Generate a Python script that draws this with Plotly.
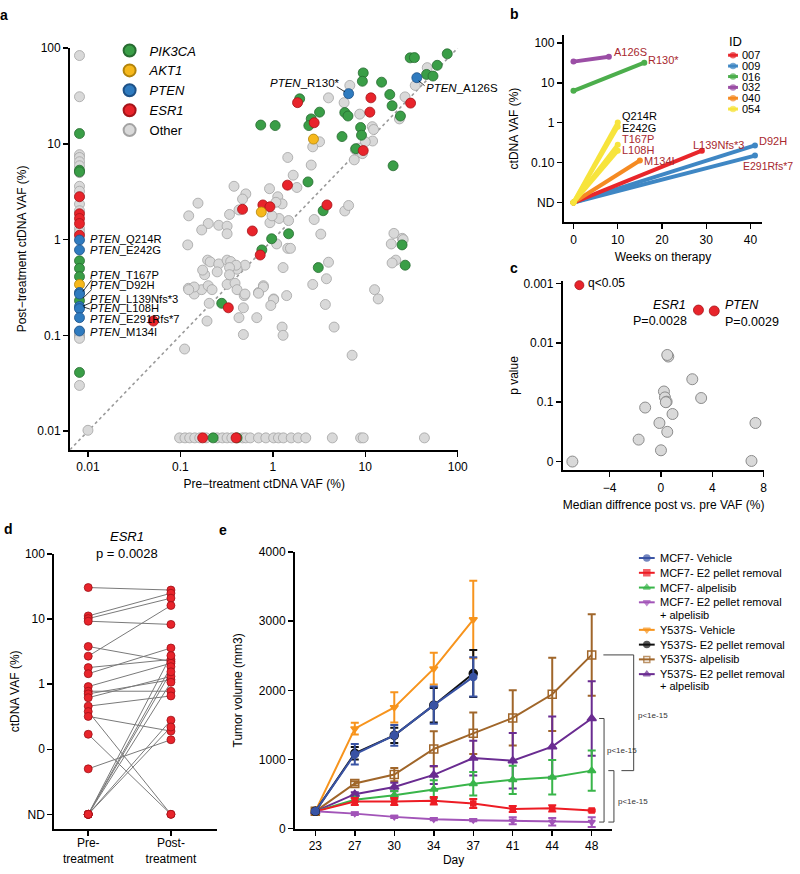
import math
import plotly.graph_objects as go

W, H = 800, 874
FONT = "Arial, Liberation Sans, sans-serif"


def fx(px):
    return px / W


def fy(py):
    return 1 - py / H


ND = None

# ---------------- panel a : (pre, post) ctDNA VAF %, None = not detected ----------------
pik3ca_pairs = [
    (30.6, 79), (34, 79.4), (77, 87), (60, 66), (46, 53), (54, 51), (9.5, 55), (9.3, 45),
    (15, 44), (18.4, 32.7), (19.5, 25), (24, 19.5), (6.0, 21.2), (6.5, 19.5), (8.9, 14.8),
    (9.1, 12.3), (5.6, 11.9), (1.95, 29.5), (3.2, 21.4), (2.6, 18.2), (2.45, 15.5),
    (0.74, 15.7), (1.06, 15.5), (7.9, 8.9), (20, 5.9), (2.4, 4.0), (3.5, 2.0), (1.48, 1.15),
    (0.97, 1.02), (0.76, 0.78), (3.1, 0.51), (25, 0.88), (27, 0.54), (0.28, 0.216),
    (ND, 12.8), (ND, 5.3), (ND, 5.1), (ND, 0.6), (ND, 0.5), (ND, 0.41), (ND, 0.23), (ND, 0.041),
    (0.226, ND), (0.41, ND),
]
akt1_pairs = [(2.75, 11.2), (0.75, 1.94), (ND, 0.34)]
pten_pairs = [(6.6, 33.4), (36.1, 49), (ND, 0.99), (ND, 0.78), (ND, 0.28), (ND, 0.27),
              (ND, 0.2), (ND, 0.19), (ND, 0.153), (ND, 0.111)]
esr1_pairs = [
    (1.85, 26.9), (11.5, 30.2), (11.2, 21.4), (30.9, 26.6), (2.8, 16.6), (9.5, 8.5),
    (1.44, 3.7), (3.85, 2.3), (0.78, 2.3), (0.93, 2.2), (0.47, 2.07), (0.6, 1.23),
    (0.73, 0.69), (0.33, 0.194), (0.051, 0.141), (0.174, ND), (0.40, ND),
    (ND, 2.8), (ND, 1.86), (ND, 1.66), (ND, 1.47), (ND, 1.11),
]
other_pairs = [
    (46.8, 62.4), (34.7, 40.7), (26.9, 30.9), (23.4, 18.2), (6.8, 40.7), (5.9, 26.9),
    (8.7, 20.4), (4.0, 30.2), (11.9, 15.1), (12.3, 14.1), (12.0, 10.7), (10.0, 10.5),
    (8.5, 9.0), (7.8, 8.7), (9.3, 7.9), (7.6, 6.8), (3.2, 10.5), (2.7, 9.3), (2.6, 6.0),
    (1.45, 7.2), (1.66, 4.7), (1.82, 3.5), (0.92, 3.4), (1.13, 2.8), (1.26, 2.36),
    (1.08, 2.45), (0.51, 3.0), (0.47, 2.65), (0.43, 2.04), (0.93, 1.5), (1.17, 1.66),
    (1.48, 1.58), (0.98, 1.77), (2.8, 1.62), (3.3, 1.14), (6.0, 1.99), (6.6, 2.27),
    (1.1, 0.9), (1.45, 0.81), (1.55, 0.81), (1.29, 0.51), (0.5, 0.54), (0.41, 0.49),
    (4.0, 0.58), (2.7, 0.34), (3.8, 0.39), (0.79, 0.33), (0.70, 0.28), (0.49, 0.26),
    (1.02, 0.24), (1.41, 0.26), (12.6, 0.30), (13.8, 0.24), (20.4, 1.16), (19.1, 0.9),
    (25.1, 1.03), (21.4, 0.61), (19.5, 0.57), (25.7, 1.0), (3.7, 0.21), (1.26, 0.122),
    (1.29, 0.10), (4.6, 0.122), (7.2, 0.062), (0.197, 0.61), (0.21, 0.585), (0.26, 0.557),
    (0.32, 0.61), (0.35, 0.59), (0.40, 0.54), (0.34, 0.51), (0.183, 0.43), (0.34, 0.43),
    (0.32, 0.34), (0.39, 0.35), (0.79, 0.32), (0.122, 0.31), (0.141, 0.27), (0.17, 0.30),
    (0.41, 0.30), (0.50, 0.27), (0.205, 0.216), (0.48, 0.194), (0.70, 0.275), (1.02, 0.236),
    (0.95, 0.205), (0.43, 0.153), (0.67, 0.153), (0.194, 0.141), (0.48, 0.102),
    (0.111, 0.072), (0.01, 0.0102), (0.155, 2.4), (0.123, 1.77), (0.38, 3.6), (0.34, 1.83),
    (0.20, 1.47), (0.26, 1.41), (0.32, 1.38), (0.32, 1.15), (0.17, 1.26), (0.12, 0.88),
    (0.174, 0.48), (0.25, 0.46), (0.141, 0.32), (0.123, 0.30), (0.2, 0.33), (0.22, 0.30),
    (ND, 83.5), (ND, 31), (ND, 7.7), (ND, 7.2), (ND, 6.5), (ND, 5.9), (ND, 5.0), (ND, 3.6),
    (ND, 3.2), (ND, 2.8), (ND, 2.35), (ND, 2.0), (ND, 1.3), (ND, 1.2), (ND, 0.109),
    (ND, 0.1), (ND, 0.097), (ND, 0.093), (ND, 0.030),
    (0.098, ND), (0.112, ND), (0.126, ND), (0.143, ND), (0.162, ND), (0.19, ND), (0.25, ND),
    (0.285, ND), (0.32, ND), (0.36, ND), (0.47, ND), (0.51, ND), (0.57, ND), (0.70, ND),
    (0.84, ND), (1.02, ND), (1.15, ND), (1.3, ND), (1.58, ND), (1.88, ND), (2.27, ND),
    (4.4, ND), (8.9, ND), (9.5, ND), (43.6, ND),
]
a_nd_pre_pos = 0.0081   # where "not detected" is drawn on panel a
a_nd_post_pos = 0.0085
a_ticks = [0.01, 0.1, 1, 10, 100]
a_ticktext = ["0.01", "0.1", "1", "10", "100"]
pten_left_labels = ["Q214R", "E242G", "T167P", "D92H", "L139Nfs*3", "L108H", "E291Rfs*7", "M134I"]

# ---------------- panel b ----------------
b_ids = ["009", "009", "007", "040", "054", "054", "054", "054", "016", "032"]
b_weeks = [41, 41, 29, 15, 10, 10, 10, 10, 16, 8]
b_pre = [ND, ND, ND, ND, ND, ND, ND, ND, 6.3, 34]
b_post = [0.27, 0.15, 0.2, 0.113, 1.02, 0.79, 0.28, 0.2, 32, 45]
b_mut = ["D92H", "E291Rfs*7", "L139Nfs*3", "M134I", "Q214R", "E242G", "T167P", "L108H", "R130*", "A126S"]
b_legend_ids = ["007", "009", "016", "032", "040", "054"]
b_nd_pos = 0.01
b_ticks = [0.01, 0.1, 1, 10, 100]
b_ticktext = ["ND", "0.10", "1", "10", "100"]

# ---------------- panel c ----------------
c_median_diff = [2.92, 4.15, 0.57, 0.49, 2.44, 0.23, 0.31, 0.44, 0.38, 3.13, -1.23, 0.9,
                 -0.12, 7.36, 0.49, -1.74, 0.0, -6.9, 7.05]
c_pvalue = [0.0028, 0.0029, 0.017, 0.016, 0.041, 0.066, 0.083, 0.098, 0.10, 0.085, 0.123,
            0.158, 0.224, 0.224, 0.316, 0.427, 0.646, 1.0, 0.977]
c_significant = [True, True] + [False] * 17

# ---------------- panel d (ESR1) ----------------
d_pre = [30.6, 11.2, 10.2, 9.3, 3.8, 2.7, 1.8, 1.45, 0.92, 0.78, 0.71, 0.62, 0.46, 0.38,
         0.32, 0.17, 0.05, ND, ND, ND, ND, ND, ND]
d_post = [28, 25, 21, 8.3, 2.24, 16.2, 2.4, 3.6, 2.1, 0.78, 1.17, 1.32, 0.66, ND, 0.19,
          ND, 0.14, 2.75, 1.86, 1.55, 1.07, 0.28, 0.22]
d_nd_pos = 0.01
d_ticks = [0.01, 0.1, 1, 10, 100]
d_ticktext = ["ND", "0", "1", "10", "100"]

# ---------------- panel e ----------------
e_days = [23, 27, 30, 34, 37, 41, 44, 48]
mcf7_vehicle = [250, 1076, 1350, 1786, 2195]
mcf7_vehicle_err = [20, 150, 150, 270, 285]
mcf7_e2 = [250, 393, 393, 403, 365, 284, 294, 261]
mcf7_e2_err = [20, 50, 50, 55, 65, 45, 45, 15]
mcf7_alp = [250, 418, 484, 569, 650, 706, 744, 839]
mcf7_alp_err = [20, 30, 60, 130, 170, 205, 250, 290]
mcf7_e2alp = [250, 217, 170, 137, 123, 114, 100, 95]
mcf7_e2alp_err = [20, 20, 15, 15, 15, 50, 55, 70]
y537s_vehicle = [250, 1446, 1754, 2314, 3025]
y537s_vehicle_err = [20, 85, 220, 230, 560]
y537s_e2 = [250, 1090, 1350, 1786, 2243]
y537s_e2_err = [20, 90, 110, 250, 340]
y537s_alp = [250, 654, 782, 1152, 1379, 1602, 1943, 2513]
y537s_alp_err = [20, 30, 95, 255, 300, 400, 530, 590]
y537s_e2alp = [250, 498, 602, 777, 1020, 982, 1186, 1593]
y537s_e2alp_err = [20, 30, 60, 130, 250, 400, 435, 540]

fig = go.Figure()

# ======== panel a ========
AX = dict(xaxis="x", yaxis="y")
fig.add_trace(go.Scatter(x=[0.0064, 100], y=[0.0064, 100], mode="lines",
                         line=dict(color="#9a9a9a", width=1.6, dash="dot"),
                         showlegend=False, hoverinfo="skip", **AX))


def a_trace(pairs, name, fill, edge, rank):
    xs = [a_nd_pre_pos if p is None else p for p, q in pairs]
    ys = [a_nd_post_pos if q is None else q for p, q in pairs]
    return go.Scatter(x=xs, y=ys, mode="markers", name=name, legend="legend", legendrank=rank,
                      marker=dict(size=10, color=fill, line=dict(color=edge, width=0.8)),
                      cliponaxis=False, **AX)


fig.add_trace(a_trace(other_pairs, "Other", "#d9d9d9", "#a3a3a3", 5))
fig.add_trace(a_trace(pik3ca_pairs, "<i>PIK3CA</i>", "#3a9e47", "#276b31", 1))
fig.add_trace(a_trace(esr1_pairs, "<i>ESR1</i>", "#e8242b", "#a51419", 4))
fig.add_trace(a_trace(akt1_pairs, "<i>AKT1</i>", "#f6b81c", "#b3840a", 2))
fig.add_trace(a_trace(pten_pairs, "<i>PTEN</i>", "#2f7bbf", "#1d5187", 3))

# ======== panel b ========
b_colors = {"007": "#e8262b", "009": "#3f87c4", "016": "#4cae4c", "032": "#9b4ea5",
            "040": "#f58a22", "054": "#f7e43c"}
for i in range(len(b_ids)):
    c = b_colors[b_ids[i]]
    y0 = b_nd_pos if b_pre[i] is None else b_pre[i]
    fig.add_trace(go.Scatter(x=[0, b_weeks[i]], y=[y0, b_post[i]], mode="lines+markers",
                             line=dict(color=c, width=4), marker=dict(size=6, color=c),
                             showlegend=False, cliponaxis=False, xaxis="x2", yaxis="y2"))

# ======== panel c ========
cx = [d for d, s in zip(c_median_diff, c_significant) if not s]
cy = [-math.log10(p) for p, s in zip(c_pvalue, c_significant) if not s]
fig.add_trace(go.Scatter(x=cx, y=cy, mode="markers", showlegend=False, cliponaxis=False,
                         marker=dict(size=11, color="#d9d9d9", line=dict(color="#8c8c8c", width=1)),
                         xaxis="x3", yaxis="y3"))
cxs = [d for d, s in zip(c_median_diff, c_significant) if s]
cys = [-math.log10(p) for p, s in zip(c_pvalue, c_significant) if s]
fig.add_trace(go.Scatter(x=cxs, y=cys, mode="markers", showlegend=False, cliponaxis=False,
                         marker=dict(size=10, color="#e8242b", line=dict(color="#a51419", width=0.8)),
                         xaxis="x3", yaxis="y3"))

# ======== panel d ========
lx, ly = [], []
for p, q in zip(d_pre, d_post):
    lx += [0, 1, None]
    ly += [d_nd_pos if p is None else p, d_nd_pos if q is None else q, None]
fig.add_trace(go.Scatter(x=lx, y=ly, mode="lines", line=dict(color="#7a7a7a", width=1),
                         showlegend=False, hoverinfo="skip", xaxis="x4", yaxis="y4"))
fig.add_trace(go.Scatter(x=[0] * len(d_pre) + [1] * len(d_post),
                         y=[d_nd_pos if v is None else v for v in d_pre + d_post],
                         mode="markers", showlegend=False, cliponaxis=False,
                         marker=dict(size=8, color="#e8242b", line=dict(color="#9e1016", width=0.8)),
                         xaxis="x4", yaxis="y4"))

# ======== panel e ========
e_labels = [str(d) for d in e_days]
e_series = [
    ("MCF7- Vehicle", mcf7_vehicle, mcf7_vehicle_err, "#3953a4", "circle", 7),
    ("MCF7- E2 pellet removal", mcf7_e2, mcf7_e2_err, "#ed1c24", "square", 5),
    ("MCF7- alpelisib", mcf7_alp, mcf7_alp_err, "#39b54a", "triangle-up", 7),
    ("MCF7- E2 pellet removal + alpelisib", mcf7_e2alp, mcf7_e2alp_err, "#a254b8", "triangle-down", 6),
    ("Y537S- Vehicle", y537s_vehicle, y537s_vehicle_err, "#f7941d", "triangle-down", 7),
    ("Y537S- E2 pellet removal", y537s_e2, y537s_e2_err, "#111111", "circle", 8),
    ("Y537S- alpelisib", y537s_alp, y537s_alp_err, "#a0662a", "square-open", 8),
    ("Y537S- E2 pellet removal + alpelisib", y537s_e2alp, y537s_e2alp_err, "#6a2c91", "triangle-up", 8),
]
draw_order = [6, 7, 2, 1, 3, 4, 5, 0]
for k in draw_order:
    name, vals, err, col, sym, sz = e_series[k]
    fig.add_trace(go.Scatter(
        x=e_labels[:len(vals)], y=vals, name=name, mode="lines+markers", showlegend=False,
        line=dict(color=col, width=2), marker=dict(symbol=sym, size=sz, color=col,
                                                    line=dict(color=col, width=1.5)),
        error_y=dict(type="data", array=err, visible=True, color=col, thickness=2, width=4),
        cliponaxis=False, xaxis="x5", yaxis="y5"))

# ======== manual legends (pixel overlay axes) ========
def swatch(xc, yc, color, symbol, size, half, lw):
    fig.add_trace(go.Scatter(x=[xc - half, xc, xc + half], y=[yc, yc, yc], mode="lines+markers",
                             line=dict(color=color, width=lw),
                             marker=dict(symbol=symbol, size=[0, size, 0], color=color,
                                         line=dict(color=color, width=1.5)),
                             showlegend=False, hoverinfo="skip", cliponaxis=False,
                             xaxis="x6", yaxis="y6"))


ann = []


def text(px, py, s, size=12, anchor="left", color="black", **kw):
    ann.append(dict(x=fx(px), y=fy(py), xref="paper", yref="paper", text=s, showarrow=False,
                    xanchor=anchor, yanchor="middle", font=dict(size=size, color=color, family=FONT), **kw))


b_rows = [49, 60, 70.7, 81.7, 92.7, 103.7]
text(736.5, 35, "ID", 13)
for bid, yy in zip(b_legend_ids, b_rows):
    swatch(742.3, yy, b_colors[bid], "circle", 5, 5, 3)
    text(749, yy, bid, 11)

e_rows = [560, 575, 590, 605, 633, 648, 663, 678]
for (name, vals, err, col, sym, sz), yy in zip(e_series, e_rows):
    swatch(655, yy, col, sym, 6, 8, 2)
    if "+ alpelisib" in name:
        text(666, yy, name.replace(" + alpelisib", ""), 11)
        text(666, yy + 12.5, "+ alpelisib", 11)
    else:
        text(666, yy, name, 11)

fig.add_trace(go.Scatter(x=[586.7], y=[282.7], mode="markers", showlegend=False, hoverinfo="skip",
                         marker=dict(size=9, color="#e8242b", line=dict(color="#a51419", width=0.8)),
                         cliponaxis=False, xaxis="x6", yaxis="y6"))
text(593, 281, "q<0.05", 12)

# ======== annotations ========
for letter, (px, py) in zip("abcde", [(4, 8), (521.5, 7), (520, 265), (9, 530), (226, 531.5)]):
    text(px, py, "<b>%s</b>" % letter, 14, anchor="center")

# panel a left-column PTEN labels
for lab, yy in zip(pten_left_labels, [236, 246.7, 272.5, 283, 296.5, 306, 317.5, 330]):
    text(89, yy, "<i>PTEN</i>_" + lab, 11.2)
text(346, 77, "<i>PTEN</i>_R130*", 11.5, anchor="right")
text(429, 82, "<i>PTEN</i>_A126S", 11.5)

# panel b mutation labels
b_shift = {"L139Nfs*3": (-11, 6), "D92H": (2, 4), "E291Rfs*7": (-14, -10), "R130*": (2, 3),
           "A126S": (3, 5), "M134I": (2, 0), "Q214R": (2, 6), "E242G": (2, -1),
           "T167P": (2, 6), "L108H": (2, 1)}
for i in range(len(b_mut)):
    dxs, dys = b_shift[b_mut[i]]
    col = "black" if b_mut[i] in ("Q214R", "E242G") else "#a8282e"
    ann.append(dict(x=b_weeks[i], y=math.log10(b_post[i]), xref="x2", yref="y2", text=b_mut[i],
                    showarrow=False, xanchor="left", yanchor="middle", xshift=dxs, yshift=dys,
                    font=dict(size=10.5 if b_mut[i] == "E291Rfs*7" else 11, color=col, family=FONT)))

# panel c gene labels
text(697, 303, "<i>ESR1</i>", 12.5, anchor="right")
text(698, 319, "P=0.0028", 12.5, anchor="right")
text(732, 303, "<i>PTEN</i>", 12.5)
text(732, 320, "P=0.0029", 12.5)

# panel d title
text(128.5, 538.5, "<i>ESR1</i>", 13, anchor="center")
text(128.5, 555, "p = 0.0028", 13, anchor="center")

# panel e significance brackets
shapes = []
def bracket(xv, v_top, v_bot, x_top_left, x_bot_left, lab_x, lab_shift):
    for (x0, y0, x1, y1) in [(xv, v_top, xv, v_bot), (x_top_left, v_top, xv, v_top),
                             (x_bot_left, v_bot, xv, v_bot)]:
        shapes.append(dict(type="line", xref="paper", yref="y5", x0=fx(x0), x1=fx(x1), y0=y0, y1=y1,
                           line=dict(color="#444444", width=1)))
    ann.append(dict(x=fx(lab_x), y=(v_top + v_bot) / 2, xref="paper", yref="y5", text="p<1e-15",
                    showarrow=False, xanchor="left", yanchor="middle", yshift=lab_shift,
                    font=dict(size=8, color="#333333", family=FONT)))


bracket(641.7, y537s_alp[-1], mcf7_alp[-1], 611, 629.3, 644, -3)
bracket(611.7, y537s_e2alp[-1], mcf7_e2alp[-1], 606.7, 606.7, 613, 20)
bracket(621.7, mcf7_alp[-1], mcf7_e2alp[-1], 616, 616, 623.5, -5)

# small leader lines (panel a)
for (x0, y0, x1, y1) in [(93, 277, 84, 289), (93, 287, 84, 296), (93, 300, 84, 304),
                         (91, 307, 85, 305), (341, 81, 349, 86), (424, 75, 430, 80)]:
    shapes.append(dict(type="line", xref="paper", yref="paper", x0=fx(x0), x1=fx(x1),
                       y0=fy(y0), y1=fy(y1), line=dict(color="black", width=0.8)))

# ======== axes ========
def axis(domain, **kw):
    d = dict(domain=domain, showline=True, linewidth=2, linecolor="black", ticks="outside",
             ticklen=5, tickwidth=1.5, tickcolor="black", showgrid=False, zeroline=False,
             tickfont=dict(size=12, color="black", family=FONT))
    d.update(kw)
    return d


def title(s, standoff):
    return dict(text=s, font=dict(size=12, color="black", family=FONT), standoff=standoff)


layout = dict(
    width=W, height=H, margin=dict(l=0, r=0, t=0, b=0),
    paper_bgcolor="white", plot_bgcolor="rgba(0,0,0,0)",
    font=dict(family=FONT, color="black"),
    xaxis=axis([fx(71), fx(464)], type="log", range=[-2.193, 2.005], tickvals=a_ticks,
               ticktext=a_ticktext, anchor="y", title=title("Pre−treatment ctDNA VAF (%)", 6)),
    yaxis=axis([fy(450), fy(41.7)], type="log", range=[-2.195, 2.0], tickvals=a_ticks,
               ticktext=a_ticktext, anchor="x", title=title("Post−treatment ctDNA VAF (%)", 8)),
    xaxis2=axis([fx(571), fx(771.7)], range=[-2.17, 42.6], tickvals=[0, 10, 20, 30, 40],
                anchor="y2", title=title("Weeks on therapy", 7)),
    yaxis2=axis([fy(219), fy(28)], type="log", range=[-2.5, 2.21], tickvals=b_ticks,
                ticktext=b_ticktext, anchor="x2", title=title("ctDNA VAF (%)", 10)),
    xaxis3=axis([fx(570), fx(774)], range=[-7.64, 8.05], tickvals=[-4, 0, 4, 8],
                ticktext=["−4", "0", "4", "8"], anchor="y3",
                title=title("Median diffrence post vs. pre VAF (%)", 7)),
    yaxis3=axis([fy(471), fy(278)], range=[-0.15, 3.05], tickvals=[0, 1, 2, 3],
                ticktext=["0", "0.1", "0.01", "0.001"], anchor="x3", title=title("p value", 2)),
    xaxis4=axis([fx(55), fx(220)], range=[-0.41, 1.56], tickvals=[0, 1],
                ticktext=["Pre-<br>treatment", "Post-<br>treatment"], anchor="y4",
                ticklabelstandoff=-3),
    yaxis4=axis([fy(835), fy(556)], type="log", range=[-2.22, 2.0], tickvals=d_ticks,
                ticktext=d_ticktext, anchor="x4", title=title("ctDNA VAF (%)", 3)),
    xaxis5=axis([fx(298.7), fx(620)], type="category", categoryorder="array",
                categoryarray=e_labels, range=[-0.515, 7.52], anchor="y5", title=title("Day", 4)),
    yaxis5=axis([fy(835), fy(554)], range=[0, 4000], tickvals=[0, 1000, 2000, 3000, 4000],
                anchor="x5", title=title("Tumor volume (mm3)", 14)),
    xaxis6=dict(domain=[0, 1], range=[0, W], visible=False, anchor="y6", fixedrange=True),
    yaxis6=dict(domain=[0, 1], range=[H, 0], visible=False, anchor="x6", fixedrange=True),
    legend=dict(x=fx(111), y=fy(29), xanchor="left", yanchor="top", bgcolor="rgba(0,0,0,0)",
                font=dict(size=13, color="black", family=FONT), itemsizing="constant",
                tracegroupgap=0),
    annotations=ann, shapes=shapes, showlegend=True, hovermode=False,
)
fig.update_layout(**layout)
page_fix = (
    "var d=document.getElementById('{plot_id}');"
    "d.style.position='absolute';d.style.left='0px';d.style.top='0px';"
    "document.documentElement.style.margin='0';document.documentElement.style.padding='0';"
    "document.documentElement.style.overflow='hidden';"
    "document.body.style.margin='0';document.body.style.padding='0';"
    "document.body.style.overflow='hidden';"
)
fig.write_html("out.html", config={"displayModeBar": False, "staticPlot": True},
               post_script=page_fix)
